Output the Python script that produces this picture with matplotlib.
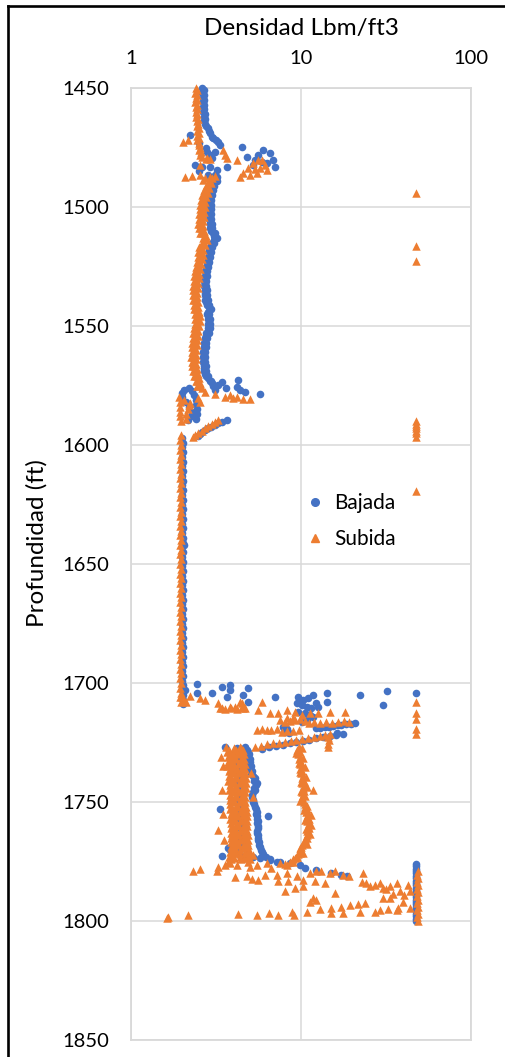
import matplotlib
matplotlib.use("Agg")
import matplotlib.pyplot as plt
from matplotlib.lines import Line2D
from matplotlib.ticker import FixedLocator, FixedFormatter, NullLocator

# ---------------- Bajada (down pass): (depth ft, density lbm/ft3) ----------------
b_top = [(1450, 2.62), (1451, 2.68), (1452, 2.63), (1453, 2.69), (1454, 2.64), (1455, 2.70),
         (1456, 2.64), (1457, 2.69), (1458, 2.65), (1459, 2.70), (1460, 2.66), (1461, 2.71),
         (1462, 2.67), (1463, 2.72), (1464, 2.70), (1465, 2.74), (1466, 2.78), (1467, 2.83)]

b_break = [(1468, 2.88), (1469, 2.93), (1469.7, 2.22), (1470.5, 2.98), (1471.1, 3.05), (1472, 3.15),
           (1472.5, 3.26), (1473, 2.50), (1474, 3.33), (1474.6, 4.47), (1475, 2.75), (1476, 6.00),
           (1476.7, 2.79), (1477, 3.10), (1477.5, 6.56), (1478.2, 2.92), (1478.2, 5.60), (1478.9, 4.79),
           (1479.5, 3.00), (1480.3, 6.87), (1480.3, 5.36), (1480.9, 5.87), (1481.6, 6.27), (1482.4, 2.38),
           (1482.4, 5.24), (1483.1, 2.60), (1483.3, 2.92), (1483.3, 3.68), (1483.3, 7.03), (1484.5, 3.19),
           (1485, 2.50), (1486.6, 2.85), (1486.6, 3.12), (1487.3, 3.20)]

b_mid = [(1488, 3.16), (1489, 3.10), (1490, 3.05), (1491, 3.00), (1492, 2.98), (1493, 2.94),
         (1494, 2.96), (1495, 2.90), (1496, 2.93), (1497, 2.89), (1498, 2.93), (1499, 2.88),
         (1500, 2.92), (1501, 2.89), (1502, 2.93), (1503, 2.88), (1504, 2.92), (1505, 2.89),
         (1506, 2.93), (1507, 2.90), (1508, 2.94), (1509, 2.92), (1510, 2.97), (1511, 3.02),
         (1512, 3.08), (1513, 3.12), (1514, 3.06), (1515, 2.98), (1516, 2.94), (1517, 2.90),
         (1518, 2.88), (1519, 2.86), (1520, 2.87), (1521, 2.83), (1522, 2.85), (1523, 2.80),
         (1524, 2.82), (1525, 2.77), (1526, 2.78), (1527, 2.73), (1528, 2.75), (1529, 2.71),
         (1530, 2.74), (1531, 2.70), (1532, 2.74), (1533, 2.70), (1534, 2.75), (1535, 2.71),
         (1536, 2.74), (1537, 2.72), (1538, 2.76), (1539, 2.74), (1540, 2.78), (1541, 2.80),
         (1542, 2.86), (1543, 2.90), (1544, 2.84), (1545, 2.80), (1546, 2.83), (1547, 2.82),
         (1548, 2.88), (1549, 2.85), (1550, 2.86), (1551, 2.82), (1552, 2.84), (1553, 2.78),
         (1554, 2.76), (1555, 2.72), (1556, 2.74), (1557, 2.70), (1558, 2.71), (1559, 2.67),
         (1560, 2.69), (1561, 2.66), (1562, 2.68), (1563, 2.65), (1564, 2.68), (1565, 2.66),
         (1566, 2.69), (1567, 2.67), (1568, 2.70), (1569, 2.69), (1570, 2.73), (1571, 2.75),
         (1572, 2.82), (1573, 2.90), (1574, 2.98), (1575, 3.05)]

b_mid_edge = [(1489, 3.20), (1491, 3.08), (1493, 3.02), (1495, 2.98), (1497, 2.97), (1499, 2.96),
              (1501, 2.97), (1503, 2.96), (1505, 2.97), (1507, 2.98), (1509, 3.00), (1511, 3.10),
              (1513, 3.20), (1515, 3.06), (1517, 2.98), (1519, 2.94), (1521, 2.91), (1523, 2.88),
              (1525, 2.85), (1527, 2.81), (1529, 2.79), (1531, 2.78), (1533, 2.78), (1535, 2.79),
              (1537, 2.80), (1539, 2.82), (1541, 2.88), (1543, 2.97), (1545, 2.88), (1547, 2.90),
              (1549, 2.93), (1551, 2.90), (1553, 2.86), (1555, 2.80), (1557, 2.78), (1559, 2.75),
              (1561, 2.74), (1563, 2.73), (1565, 2.74), (1567, 2.75), (1569, 2.77), (1571, 2.83),
              (1573, 2.97), (1575, 3.12)]

b_kick = [(1572.7, 4.28), (1573.4, 3.42), (1574.8, 3.26), (1575.5, 4.18), (1576.9, 4.38),
          (1577.6, 4.68), (1578.6, 5.74), (1576, 3.60), (1577, 3.10)]

b_pocket = [(1576, 2.20), (1577, 2.05), (1577.5, 2.30), (1578, 2.00), (1579, 2.35), (1580, 2.00),
            (1581, 2.40), (1582, 2.12), (1583, 2.42), (1584, 2.20), (1585, 2.45), (1586, 2.30),
            (1587, 2.45), (1588, 2.25), (1589, 2.40), (1589.5, 2.15)]

b_slant = [(1589.5, 3.66), (1590.2, 3.45), (1590.9, 3.26), (1591.6, 3.10), (1592.3, 2.96),
           (1593, 2.84), (1593.8, 2.72), (1594.6, 2.62), (1595.4, 2.55), (1596.2, 2.49)]

b_flat = [(1597, 2.00), (1599, 2.02), (1601, 1.99), (1603, 2.01), (1605, 2.00), (1607, 2.02),
          (1609, 1.99), (1611, 2.01), (1613, 2.00), (1615, 2.02), (1617, 1.99), (1619, 2.01),
          (1621, 2.00), (1623, 2.02), (1625, 1.99), (1627, 2.01), (1629, 2.00), (1631, 2.02),
          (1633, 1.99), (1635, 2.01), (1637, 2.00), (1639, 2.02), (1641, 2.01), (1642, 2.06),
          (1643, 2.00), (1645, 2.02), (1647, 1.99), (1649, 2.01), (1651, 2.00), (1653, 2.02),
          (1655, 1.99), (1657, 2.01), (1659, 2.00), (1661, 2.02), (1663, 1.99), (1665, 2.01),
          (1667, 2.00), (1669, 2.02), (1671, 1.99), (1673, 2.01), (1675, 2.00), (1677, 2.02),
          (1679, 1.99), (1681, 2.01), (1683, 2.00), (1685, 2.02), (1687, 1.99), (1689, 2.01),
          (1691, 2.00), (1693, 2.02), (1695, 1.99), (1697, 2.01), (1699, 2.00), (1701, 2.02),
          (1703, 2.00), (1705, 2.03), (1707, 2.01), (1709, 2.02)]

b_1700 = [(1700.4, 2.43), (1702.9, 2.08), (1704, 2.43), (1704, 2.98), (1701.8, 3.42), (1700.8, 3.82),
          (1703, 3.82), (1705.7, 3.66), (1705, 4.58), (1702.2, 4.90), (1707.8, 4.90), (1705.7, 7.03),
          (1704.3, 14.2), (1707.8, 14.2), (1705, 22.2), (1709.2, 30.5), (1703.2, 31.9), (1704.3, 47.5),
          (1705.7, 9.66), (1707.1, 10.3), (1706.4, 11.0), (1705, 11.8), (1708.5, 12.3), (1708.5, 9.44),
          (1709.2, 10.1), (1709.9, 10.8), (1710.6, 11.5), (1709.9, 12.6), (1712, 9.66), (1712.7, 10.5),
          (1713.4, 11.3), (1715.5, 10.8), (1716.2, 10.1), (1714.1, 11.8),
          (1718.5, 7.8), (1719.5, 8.3), (1720.5, 7.9), (1721, 8.5)]

b_rod_upper = [(1719, 12.3), (1718.8, 13.0), (1718.5, 13.8), (1718.3, 14.7), (1718.1, 15.5),
               (1717.8, 16.4), (1717.6, 17.3), (1717.4, 18.5), (1717.1, 19.6), (1716.9, 20.8),
               (1721, 16.2)]

b_rod_lower = [(1727.6, 5.9), (1727, 6.5), (1726.5, 7.1), (1726, 7.8), (1725.4, 8.6), (1724.9, 9.4),
               (1724.3, 10.3), (1723.8, 11.2), (1723.3, 12.3), (1722.8, 13.5), (1722.3, 14.8),
               (1721.9, 16.1), (1721.5, 17.6)]

b_lower_edge = [(1727, 4.70), (1728, 4.80), (1729, 4.85), (1730, 4.92), (1731, 4.88), (1732, 4.98),
                (1733, 5.02), (1734, 4.96), (1735, 5.06), (1736, 5.04), (1737, 5.13), (1738, 5.10),
                (1739, 5.22), (1740, 5.36), (1741, 5.30), (1742, 5.48), (1743, 5.40), (1744, 5.32),
                (1745, 5.36), (1746, 5.22), (1747, 5.18), (1748, 5.13), (1749, 5.20), (1750, 5.24),
                (1751, 5.30), (1752, 5.36), (1753, 5.42), (1754, 5.48), (1755, 5.44), (1756, 5.50),
                (1757, 5.48), (1758, 5.56), (1759, 5.52), (1760, 5.60), (1761, 5.55), (1762, 5.50),
                (1763, 5.48), (1764, 5.55), (1765, 5.58), (1766, 5.60), (1767, 5.65), (1768, 5.70),
                (1769, 5.74), (1770, 5.80), (1771, 5.90), (1772, 6.00), (1773, 6.25), (1774, 6.56),
                (1775, 7.19)]

b_lower_core = [(1727, 3.55), (1727.5, 4.20), (1729, 4.10), (1731, 4.25), (1733, 4.15), (1735, 4.30),
                (1737, 4.20), (1739, 4.35), (1741, 4.25), (1743, 4.40), (1745, 4.30), (1747, 4.40),
                (1749, 4.30), (1751, 4.45), (1753, 4.35), (1755, 4.45), (1757, 4.35), (1759, 4.50),
                (1761, 4.40), (1763, 4.50), (1765, 4.40), (1767, 4.55), (1769, 4.45), (1771, 4.30),
                (1773, 4.60)]

b_lower_extra = [(1753, 3.33), (1769.5, 3.73), (1772.7, 3.42), (1756, 6.40), (1770, 3.80),
                 (1771, 4.30), (1772, 4.80), (1773, 5.20)]

b_foot = [(1773.7, 5.74), (1774.4, 6.56), (1775.1, 7.52), (1775.8, 8.6), (1776.5, 9.87),
          (1777.9, 10.6), (1778.7, 12.3), (1779.7, 15.1), (1780.7, 17.3), (1781.1, 18.6)]

b_cap = [(1776, 47.5), (1777, 47.2), (1778, 47.6), (1779, 47.3), (1780, 47.6), (1781, 47.2),
         (1782, 47.5), (1783, 47.3), (1784, 47.6), (1785, 47.2), (1786, 47.5), (1787, 47.3),
         (1788, 47.6), (1789, 47.2), (1790, 47.5), (1791, 47.3), (1792, 47.6), (1793, 47.2),
         (1794, 47.5), (1795, 47.3), (1796, 47.6), (1797, 47.2), (1798, 47.5), (1799, 47.3),
         (1800, 47.5)]

# ---------------- Subida (up pass): (depth ft, density lbm/ft3) ----------------
o_top = [(1450, 2.40), (1451, 2.44), (1452, 2.39), (1453, 2.45), (1454, 2.40), (1455, 2.44),
         (1456, 2.39), (1457, 2.45), (1458, 2.40), (1459, 2.46), (1460, 2.41), (1461, 2.46),
         (1462, 2.42), (1463, 2.47), (1464, 2.43), (1465, 2.48), (1466, 2.45), (1467, 2.50),
         (1468, 2.46), (1469, 2.52), (1470, 2.46), (1471, 2.50), (1472, 2.46), (1473, 2.52),
         (1474, 2.50), (1475, 2.55), (1476, 2.52), (1477, 2.58), (1478, 2.56), (1479, 2.62),
         (1480, 2.75)]

o_break = [(1471.8, 2.17), (1472.5, 2.03), (1476, 3.49), (1478.2, 3.57), (1479.6, 3.66),
           (1479.6, 2.79), (1480, 2.92), (1480.3, 4.18), (1482.4, 2.55), (1485.8, 4.58),
           (1483.7, 4.90), (1481.6, 5.24), (1480.3, 5.60), (1483.7, 5.74), (1482.4, 6.14),
           (1484.5, 6.27), (1485.8, 5.48), (1486.6, 5.00), (1487.3, 4.38), (1480.3, 5.87),
           (1484, 5.36), (1487.3, 2.08), (1487, 2.27), (1486.6, 2.55), (1488, 2.72),
           (1487.3, 2.92), (1487, 3.12), (1488.5, 2.65)]

o_mid = [(1488, 3.00), (1489, 2.92), (1490, 2.95), (1491, 2.82), (1492, 2.88), (1493, 2.74),
         (1494, 2.82), (1495, 2.68), (1496, 2.76), (1497, 2.64), (1498, 2.74), (1499, 2.62),
         (1500, 2.72), (1501, 2.60), (1502, 2.70), (1503, 2.58), (1504, 2.68), (1505, 2.56),
         (1506, 2.66), (1507, 2.55), (1508, 2.66), (1509, 2.57), (1510, 2.68), (1511, 2.62),
         (1512, 2.76), (1513, 2.72), (1514, 2.80), (1515, 2.66), (1516, 2.72), (1517, 2.58),
         (1518, 2.66), (1519, 2.55), (1520, 2.64), (1521, 2.53), (1522, 2.62), (1523, 2.50),
         (1524, 2.58), (1525, 2.47), (1526, 2.55), (1527, 2.44), (1528, 2.52), (1529, 2.42),
         (1530, 2.50), (1531, 2.40), (1532, 2.48), (1533, 2.39), (1534, 2.47), (1535, 2.38),
         (1536, 2.46), (1537, 2.38), (1538, 2.46), (1539, 2.39), (1540, 2.47), (1541, 2.40),
         (1542, 2.49), (1543, 2.42), (1544, 2.52), (1545, 2.43), (1546, 2.53), (1547, 2.44),
         (1548, 2.54), (1549, 2.44), (1550, 2.52), (1551, 2.41), (1552, 2.49), (1553, 2.38),
         (1554, 2.47), (1555, 2.37), (1556, 2.45), (1557, 2.35), (1558, 2.43), (1559, 2.34),
         (1560, 2.42), (1561, 2.33), (1562, 2.41), (1563, 2.32), (1564, 2.41), (1565, 2.33),
         (1566, 2.42), (1567, 2.35), (1568, 2.44), (1569, 2.37), (1570, 2.47), (1571, 2.41),
         (1572, 2.50), (1573, 2.46), (1574, 2.55), (1575, 2.52), (1576, 2.60)]

o_mid_edge = [(1489, 2.86), (1491, 2.76), (1493, 2.68), (1495, 2.62), (1497, 2.58), (1499, 2.56),
              (1501, 2.54), (1503, 2.52), (1505, 2.50), (1507, 2.49), (1509, 2.51), (1511, 2.56),
              (1513, 2.66), (1515, 2.60), (1517, 2.52), (1519, 2.49), (1521, 2.47), (1523, 2.44),
              (1525, 2.41), (1527, 2.38), (1529, 2.36), (1531, 2.34), (1533, 2.33), (1535, 2.32),
              (1537, 2.32), (1539, 2.33), (1541, 2.34), (1543, 2.36), (1545, 2.37), (1547, 2.38),
              (1549, 2.38), (1551, 2.35), (1553, 2.32), (1555, 2.31), (1557, 2.29), (1559, 2.28),
              (1561, 2.27), (1563, 2.26), (1565, 2.27), (1567, 2.29), (1569, 2.31), (1571, 2.35),
              (1573, 2.40), (1575, 2.46)]

o_kick = [(1577.6, 2.72), (1578.6, 3.12), (1579.7, 3.57), (1580.4, 3.99), (1580.8, 4.58),
          (1580.8, 5.00), (1579, 3.82), (1579.7, 4.18)]

o_pocket = [(1580, 1.92), (1581, 2.05), (1582, 1.95), (1583, 2.18), (1584, 1.93), (1585, 2.15),
            (1586, 1.95), (1587, 2.12), (1588, 1.94), (1589, 2.10), (1590, 1.96), (1580.4, 2.49),
            (1581.8, 2.55), (1582.5, 2.22)]

o_slant = [(1589.5, 3.26), (1590.3, 3.12), (1591, 3.00), (1592, 2.85), (1593, 2.72),
           (1594, 2.60), (1595, 2.48), (1596, 2.38), (1596.6, 2.32)]

o_flat = [(1596, 1.96), (1598, 1.94), (1600, 1.97), (1602, 1.95), (1604, 1.96), (1606, 1.94),
          (1608, 1.97), (1610, 1.95), (1612, 1.96), (1614, 1.94), (1616, 1.97), (1618, 1.95),
          (1620, 1.96), (1622, 1.94), (1624, 1.97), (1626, 1.95), (1628, 1.96), (1630, 1.94),
          (1632, 1.97), (1634, 1.95), (1636, 1.96), (1638, 1.94), (1640, 1.97), (1642, 1.95),
          (1644, 1.96), (1646, 1.94), (1648, 1.97), (1650, 1.95), (1652, 1.96), (1654, 1.94),
          (1656, 1.97), (1658, 1.95), (1660, 1.96), (1662, 1.94), (1664, 1.97), (1666, 1.95),
          (1668, 1.96), (1670, 1.94), (1672, 1.97), (1674, 1.95), (1676, 1.96), (1678, 1.94),
          (1680, 1.97), (1682, 1.95), (1684, 1.96), (1686, 1.94), (1688, 1.97), (1690, 1.95),
          (1692, 1.96), (1694, 1.94), (1696, 1.97), (1698, 1.95), (1700, 1.96), (1702, 1.94),
          (1704, 1.97), (1706, 1.95), (1708, 1.96)]

o_1700 = [(1705.5, 2.22), (1706.4, 2.55), (1707, 2.72), (1708.5, 3.26), (1710.6, 3.42), (1710.6, 3.90),
          (1709.9, 4.10), (1707.8, 4.38), (1709.9, 4.47), (1710.6, 4.68), (1707.8, 5.87), (1711.3, 5.60),
          (1712.7, 6.56), (1712.7, 7.35), (1711.3, 8.24), (1714.8, 8.24), (1712, 9.22), (1713.4, 10.1),
          (1712.7, 11.3), (1712.7, 12.6), (1712, 14.8), (1712, 18.1), (1714.8, 9.0), (1715.5, 7.5),
          (1706, 2.00), (1707, 2.05), (1708, 2.10), (1710.6, 3.33), (1711, 3.57), (1710.2, 3.82),
          (1711, 4.18), (1708.5, 4.47), (1710.6, 4.58)]

o_band_b = [(1716.5, 8.0), (1716, 8.6), (1715.5, 9.2), (1715, 9.9), (1716, 10.5), (1717, 11.2),
            (1716.5, 12.0), (1717, 13.0), (1716.5, 14.0), (1717, 15.2), (1716.5, 16.4),
            (1716, 17.8), (1716.5, 19.2)]

o_band_c = [(1719.7, 5.48), (1719.5, 5.87), (1719.7, 6.27), (1719.6, 6.70), (1719.4, 7.19),
            (1720.4, 7.70), (1720, 8.3), (1720.2, 9.0), (1719.8, 9.7)]

o_rod = [(1726.7, 5.36), (1726.3, 5.8), (1725.8, 6.3), (1725.4, 6.8), (1725, 7.4), (1724.6, 8.0),
         (1724.2, 8.7), (1723.8, 9.4), (1723.4, 10.2), (1723, 11.0), (1722.6, 11.9), (1722.2, 12.9),
         (1721.8, 13.9), (1721.4, 14.8), (1722.5, 14.5), (1724, 14.6), (1725.5, 14.4), (1727, 14.5)]

o_cap_top = [(1494, 47.5), (1516.4, 47.5), (1522.7, 47.5), (1590, 47.5), (1591, 47.5), (1592, 47.5),
             (1593, 47.5), (1594, 47.5), (1595, 47.5), (1596.5, 47.5), (1619.3, 47.5), (1708, 47.5),
             (1712.4, 47.5), (1715.2, 47.5), (1719.4, 47.5), (1721.5, 47.5)]

o_band_left = [(1727, 3.60), (1728, 3.75), (1729, 3.65), (1730, 3.80), (1731, 3.70), (1732, 3.85),
               (1733, 3.72), (1734, 3.80), (1735, 3.68), (1736, 3.82), (1737, 3.75), (1738, 3.88),
               (1739, 3.78), (1740, 3.85), (1741, 3.74), (1742, 3.90), (1743, 3.80), (1744, 3.86),
               (1745, 3.78), (1746, 3.92), (1747, 3.84), (1748, 3.88), (1749, 3.80), (1750, 3.93),
               (1751, 3.84), (1752, 3.90), (1753, 3.82), (1754, 3.95), (1755, 3.86), (1756, 3.92),
               (1757, 3.84), (1758, 3.96), (1759, 3.88), (1760, 3.94), (1761, 3.85), (1762, 3.98),
               (1763, 3.90), (1764, 3.95), (1765, 3.86), (1766, 3.98), (1767, 3.90), (1768, 3.96),
               (1769, 3.86), (1770, 3.92), (1771, 3.82), (1772, 3.90), (1773, 3.78), (1774, 3.85),
               (1775, 3.72)]

o_band_q1 = [(1727.5, 4.02), (1729.5, 3.98), (1731.5, 4.05), (1733.5, 4.00), (1735.5, 4.06),
             (1737.5, 4.02), (1739.5, 4.08), (1741.5, 4.04), (1743.5, 4.10), (1745.5, 4.05),
             (1747.5, 4.10), (1749.5, 4.06), (1751.5, 4.12), (1753.5, 4.08), (1755.5, 4.14),
             (1757.5, 4.10), (1759.5, 4.15), (1761.5, 4.10), (1763.5, 4.16), (1765.5, 4.12),
             (1767.5, 4.16), (1769.5, 4.10), (1771.5, 4.12), (1773.5, 4.05)]

o_band_mid = [(1728, 4.15), (1730, 4.22), (1732, 4.12), (1734, 4.25), (1736, 4.18), (1738, 4.28),
              (1740, 4.20), (1742, 4.30), (1744, 4.22), (1746, 4.28), (1748, 4.20), (1750, 4.32),
              (1752, 4.25), (1754, 4.35), (1756, 4.28), (1758, 4.36), (1760, 4.30), (1762, 4.38),
              (1764, 4.30), (1766, 4.40), (1768, 4.32), (1770, 4.40), (1772, 4.35), (1774, 4.42)]

o_band_q3 = [(1727.5, 4.45), (1729.5, 4.40), (1731.5, 4.48), (1733.5, 4.42), (1735.5, 4.50),
             (1737.5, 4.45), (1739.5, 4.52), (1741.5, 4.46), (1743.5, 4.54), (1745.5, 4.48),
             (1747.5, 4.52), (1749.5, 4.46), (1751.5, 4.55), (1753.5, 4.50), (1755.5, 4.58),
             (1757.5, 4.52), (1759.5, 4.60), (1761.5, 4.54), (1763.5, 4.62), (1765.5, 4.56),
             (1767.5, 4.64), (1769.5, 4.58), (1771.5, 4.66), (1773.5, 4.60)]

o_band_right = [(1727, 4.40), (1728, 4.55), (1729, 4.45), (1730, 4.60), (1731, 4.50), (1732, 4.62),
                (1733, 4.52), (1734, 4.66), (1735, 4.55), (1736, 4.68), (1737, 4.58), (1738, 4.70),
                (1739, 4.60), (1740, 4.72), (1741, 4.62), (1742, 4.75), (1743, 4.64), (1744, 4.72),
                (1745, 4.60), (1746, 4.68), (1747, 4.58), (1748, 4.66), (1749, 4.60), (1750, 4.70),
                (1751, 4.62), (1752, 4.75), (1753, 4.66), (1754, 4.78), (1755, 4.68), (1756, 4.80),
                (1757, 4.70), (1758, 4.82), (1759, 4.72), (1760, 4.80), (1761, 4.70), (1762, 4.82),
                (1763, 4.74), (1764, 4.85), (1765, 4.76), (1766, 4.88), (1767, 4.78), (1768, 4.90),
                (1769, 4.82), (1770, 4.92), (1771, 4.85), (1772, 4.95), (1773, 4.88), (1774, 5.00),
                (1775, 4.90)]

o_band_stray = [(1761.8, 3.26), (1745, 3.45), (1735, 3.50), (1755, 3.48), (1731, 3.40),
                (1766, 3.52), (1748, 5.20), (1738, 5.05)]

o_ten = [(1727, 9.7), (1728, 9.5), (1729, 9.8), (1730, 9.6), (1731, 9.9), (1732, 9.7), (1733, 10.0),
         (1734, 9.8), (1735, 10.1), (1736, 9.9), (1737, 10.2), (1738, 10.0), (1739, 10.3), (1740, 10.1),
         (1741, 10.4), (1742, 10.2), (1743, 10.5), (1744, 10.3), (1745, 11.8), (1745.5, 10.4),
         (1746, 10.2), (1747, 10.3), (1748, 10.1), (1749, 10.2), (1750, 10.4), (1751, 10.6),
         (1752, 10.5), (1753, 10.8), (1754, 10.7), (1755, 11.0), (1756, 10.8), (1757, 11.1),
         (1758, 10.9), (1759, 11.2), (1760, 11.0), (1761, 11.2), (1762, 10.9), (1763, 11.0),
         (1764, 10.8), (1765, 10.9), (1766, 10.6), (1767, 10.5), (1768, 10.1), (1769, 10.0),
         (1770, 9.9), (1771, 9.7), (1772, 9.6), (1773, 9.45), (1774, 9.0), (1775, 8.6), (1776, 8.0)]

o_ten_b = [(1727.5, 10.1), (1729.5, 9.4), (1731.5, 10.3), (1733.5, 9.7), (1735.5, 10.5),
           (1737.5, 9.8), (1739.5, 10.7), (1741.5, 10.0), (1743.5, 10.9), (1745.5, 10.0),
           (1747.5, 10.6), (1749.5, 9.9), (1751.5, 10.9), (1753.5, 10.4), (1755.5, 11.4),
           (1757.5, 10.6), (1759.5, 11.5), (1761.5, 10.7), (1763.5, 11.3), (1765.5, 10.5),
           (1767.5, 10.8), (1769.5, 9.8), (1771.5, 9.9), (1773.5, 9.2)]

o_floor = [(1771.6, 3.99), (1773, 4.38), (1773.7, 4.79), (1772.3, 5.24), (1775.8, 3.82), (1776.5, 4.18),
           (1777.2, 5.00), (1776.5, 5.48), (1775.8, 6.27), (1777.9, 6.70), (1775.8, 7.52), (1776.5, 8.24),
           (1775.1, 8.97), (1773, 9.44), (1771.6, 10.3), (1777.2, 3.26), (1776.5, 3.57),
           (1778.8, 2.32), (1778.2, 2.55), (1779.2, 3.19), (1781.6, 4.09), (1781.1, 4.79), (1782.3, 5.13),
           (1782.8, 5.60), (1780.7, 6.14), (1780.7, 7.19), (1783.4, 7.35), (1779.9, 8.24), (1783.4, 8.40),
           (1781.3, 9.44), (1782.8, 10.3), (1779.9, 11.3), (1783.4, 12.1), (1779.2, 12.3), (1779.2, 13.2),
           (1784, 13.8), (1779.9, 14.8), (1779.2, 15.8), (1780.7, 17.7), (1781.1, 19.2), (1779.9, 23.3),
           (1783.8, 22.7), (1784, 24.2), (1784.8, 27.2), (1784, 29.1), (1786.2, 30.5), (1785.5, 33.3),
           (1784, 36.5), (1787.6, 38.2), (1784.8, 42.7), (1787.6, 43.7), (1790.4, 30.5), (1790.4, 33.3),
           (1787.6, 8.07), (1786.2, 9.22), (1785.5, 10.3), (1788.4, 15.8), (1791.9, 11.3), (1790.4, 11.8),
           (1796.1, 10.8), (1795.1, 12.9), (1794.6, 15.1), (1796.7, 15.1), (1794.2, 17.3), (1796.7, 17.6),
           (1793.3, 19.5), (1792.9, 21.6), (1796.1, 22.2), (1792.5, 23.7), (1796.1, 27.2), (1795.4, 29.1),
           (1795.1, 32.5), (1795.4, 36.5), (1794.5, 37.0), (1792.2, 39.9), (1794.6, 43.7),
           (1798.8, 1.62), (1798.2, 1.64), (1797.5, 2.17), (1797.1, 4.28), (1797.5, 5.48), (1796.5, 6.52),
           (1797.5, 7.35), (1796.1, 8.80), (1797.5, 9.06), (1786.5, 31.5), (1788.5, 35.0), (1789.0, 40.5),
           (1785.2, 25.5), (1791.0, 12.2)]

o_cap_bottom = [(1779, 48.8), (1780.5, 48.2), (1782, 48.9), (1783.5, 48.3), (1785, 48.8), (1786.5, 48.2),
                (1788, 48.9), (1789.5, 48.3), (1791, 48.8), (1792.5, 48.2), (1794, 48.9), (1795.5, 48.3),
                (1797, 48.8), (1798.5, 48.2), (1800, 48.8)]

BAJADA = (b_top + b_break + b_mid + b_mid_edge + b_kick + b_pocket + b_slant + b_flat + b_1700
          + b_rod_upper + b_rod_lower + b_lower_core + b_lower_edge + b_lower_extra + b_foot + b_cap)
SUBIDA = (o_top + o_break + o_mid + o_mid_edge + o_kick + o_pocket + o_slant + o_flat + o_1700
          + o_band_b + o_band_c + o_rod + o_cap_top + o_band_left + o_band_q1 + o_band_mid
          + o_band_q3 + o_band_right + o_band_stray + o_ten + o_ten_b + o_floor + o_cap_bottom)

X_TICKS = [1, 10, 100]
X_TICK_LABELS = ["1", "10", "100"]
Y_TICKS = [1450, 1500, 1550, 1600, 1650, 1700, 1750, 1800, 1850]

BLUE = "#4472C4"
ORANGE = "#ED7D31"
GRID = "#D9D9D9"
FONT = ["Lato", "DejaVu Sans"]

W, H = 506, 1057
fig = plt.figure(figsize=(W / 100, H / 100), dpi=100)
ax_l, ax_r, ax_t, ax_b = 131, 471, 88, 1040
ax = fig.add_axes([ax_l / W, 1 - ax_b / H, (ax_r - ax_l) / W, (ax_b - ax_t) / H])

ax.set_xscale("log")
ax.set_xlim(1, 100)
ax.set_ylim(1850, 1450)

bd = [p[0] for p in BAJADA]
bx = [p[1] for p in BAJADA]
sd = [p[0] for p in SUBIDA]
sx = [p[1] for p in SUBIDA]

ax.scatter(bx, bd, s=30, marker="o", color=BLUE, linewidths=0, zorder=3, clip_on=False, label="Bajada")
ax.scatter(sx, sd, s=37, marker="^", color=ORANGE, linewidths=0, zorder=4, clip_on=False, label="Subida")

ax.xaxis.set_major_locator(FixedLocator(X_TICKS))
ax.xaxis.set_major_formatter(FixedFormatter(X_TICK_LABELS))
ax.xaxis.set_minor_locator(NullLocator())
ax.set_yticks(Y_TICKS)
ax.xaxis.tick_top()
ax.xaxis.set_label_position("top")
ax.tick_params(axis="both", length=0, labelsize=14.5, colors="#000000")
ax.tick_params(axis="x", pad=15)
ax.tick_params(axis="y", pad=16)
for lab in ax.get_xticklabels() + ax.get_yticklabels():
    lab.set_family(FONT)

ax.grid(True, which="major", color=GRID, linewidth=1.1, zorder=0)
ax.set_axisbelow(True)
for sp in ax.spines.values():
    sp.set_color(GRID)
    sp.set_linewidth(1.3)

fig.text(301 / W, 1 - 28 / H, "Densidad Lbm/ft3", ha="center", va="center",
         fontsize=17.5, family=FONT)
fig.text(37 / W, 1 - 543 / H, "Profundidad (ft)", ha="center", va="center",
         rotation=90, fontsize=17.5, family=FONT)

handles = [Line2D([], [], ls="", marker="o", color=BLUE, markersize=5.5),
           Line2D([], [], ls="", marker="^", color=ORANGE, markersize=5.5)]
leg = ax.legend(handles, ["Bajada", "Subida"], loc="center left",
                bbox_to_anchor=(306 / W, 1 - 521 / H), bbox_transform=fig.transFigure,
                frameon=False, handlelength=0.9, handletextpad=0.45, labelspacing=0.75,
                borderpad=0, borderaxespad=0, prop={"family": FONT, "size": 15})

# outer frame strokes along the top and left edges
fig.add_artist(Line2D([7.8 / W, 1], [1 - 6 / H, 1 - 6 / H], color="black", lw=1.9,
                      transform=fig.transFigure))
fig.add_artist(Line2D([7.8 / W, 7.8 / W], [1 - 6 / H, 0], color="black", lw=1.9,
                      transform=fig.transFigure))

fig.savefig("out.png", dpi=100)
